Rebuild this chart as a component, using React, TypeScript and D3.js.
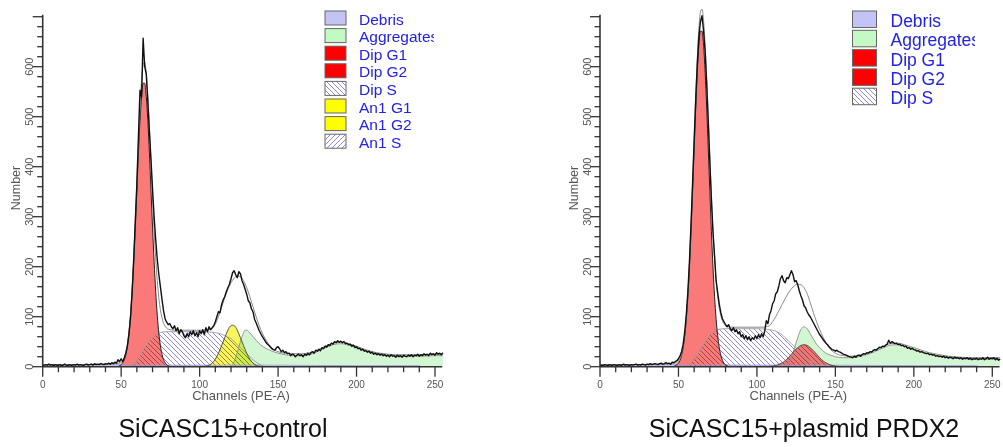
import * as d3 from 'd3';

type Pt = [number, number];

// ---- data ----
const channels = d3.range(256);

const histControl = [
  2, 3, 4, 3, 5, 3, 4, 2, 4, 3, 3, 4, 2, 3, 5, 3, 2, 4, 3, 3,
  4, 3, 5, 3, 4, 3, 2, 4, 5, 3, 4, 5, 3, 6, 4, 5, 4, 6, 5, 4,
  6, 5, 7, 5, 8, 6, 9, 7, 14, 10, 16, 10, 18, 27, 42, 66, 100, 150, 215, 290,
  365, 460, 553, 540, 657, 600, 585, 530, 470, 415, 355, 300, 255, 215, 185, 160, 135, 112, 96, 89,
  84, 86, 80, 76, 82, 72, 78, 66, 74, 70, 62, 58, 66, 60, 70, 64, 72, 62, 68, 60,
  72, 66, 74, 64, 78, 70, 80, 74, 78, 82, 90, 100, 110, 108, 124, 134, 140, 150, 158, 165,
  176, 188, 192, 184, 178, 190, 186, 172, 165, 155, 145, 132, 128, 116, 110, 95, 88, 80, 72, 66,
  60, 55, 50, 46, 43, 40, 36, 34, 33, 38, 40, 36, 30, 33, 28, 30, 26, 27, 22, 25,
  24, 20, 23, 25, 22, 24, 20, 25, 23, 27, 24, 28, 30, 27, 33, 31, 35, 32, 38, 36,
  41, 39, 44, 42, 47, 45, 50, 48, 52, 49, 51, 48, 50, 46, 47, 44, 45, 41, 43, 38,
  40, 36, 37, 33, 35, 31, 32, 29, 31, 27, 29, 25, 27, 24, 26, 23, 25, 22, 24, 21,
  23, 20, 24, 21, 22, 19, 23, 20, 22, 19, 23, 21, 20, 23, 21, 24, 20, 23, 22, 25,
  21, 24, 22, 26, 23, 25, 22, 27, 24, 26, 23, 28, 25, 27, 24, 28,
];

const histPrdx2 = [
  2, 3, 2, 4, 3, 2, 4, 3, 3, 4, 3, 2, 4, 3, 3, 5, 3, 4, 3, 3,
  4, 3, 4, 5, 3, 4, 3, 5, 4, 3, 5, 4, 6, 4, 5, 6, 5, 4, 6, 7,
  5, 6, 8, 6, 7, 5, 9, 8, 10, 12, 16, 22, 30, 45, 70, 104, 150, 210, 285, 368,
  452, 535, 605, 660, 690, 702, 672, 630, 565, 490, 410, 335, 270, 222, 172, 148, 125, 108, 96, 90,
  84, 80, 84, 76, 72, 78, 70, 74, 66, 70, 60, 64, 56, 62, 54, 60, 52, 58, 55, 62,
  56, 64, 58, 66, 60, 72, 92, 86, 104, 112, 126, 132, 146, 150, 162, 176, 182, 172, 168, 178,
  176, 184, 192, 184, 170, 172, 164, 152, 142, 134, 122, 118, 110, 104, 100, 94, 88, 82, 76, 70,
  64, 60, 55, 51, 47, 44, 40, 37, 34, 33, 31, 33, 30, 29, 27, 25, 24, 23, 21, 20,
  19, 18, 21, 19, 22, 23, 21, 24, 26, 25, 28, 27, 30, 29, 32, 34, 33, 36, 39, 38,
  41, 40, 43, 45, 53, 47, 50, 48, 46, 47, 44, 45, 42, 43, 40, 41, 37, 38, 35, 37,
  34, 33, 31, 32, 29, 30, 28, 27, 26, 27, 24, 25, 23, 24, 21, 22, 20, 21, 19, 21,
  18, 20, 17, 19, 18, 16, 19, 17, 18, 16, 18, 15, 17, 16, 18, 15, 17, 14, 16, 15,
  17, 14, 16, 15, 18, 14, 16, 19, 15, 17, 16, 18, 14, 17, 13, 15,
];

// model components, [channel, count]
const debrisControl: Pt[] = [[0, 4], [20, 4], [40, 4], [50, 4], [60, 3], [100, 3], [150, 3], [200, 2], [240, 2], [241, 0]];
const g1Control: Pt[] = [
  [48, 0], [49, 2], [50, 4], [51, 8], [52, 14], [53, 25], [54, 42], [55, 67], [56, 103], [57, 151], [58, 210],
  [59, 279], [60, 353], [61, 427], [62, 492], [63, 540], [64, 567], [65, 567], [66, 540], [67, 492],
  [68, 427], [69, 353], [70, 279], [71, 210], [72, 151], [73, 103], [74, 67], [75, 42], [76, 25],
  [77, 14], [78, 8], [79, 4], [80, 2], [81, 0],
];
const sControl: Pt[] = [
  [54, 0], [56, 2], [58, 5], [60, 12], [62, 22], [64, 33], [66, 43], [68, 51], [70, 58], [72, 63], [74, 67],
  [76, 69], [80, 70], [90, 70], [100, 70], [108, 69], [110, 68], [112, 67], [114, 65], [116, 62], [118, 59],
  [120, 56], [122, 50], [124, 44], [126, 38], [128, 32], [130, 26], [132, 20], [134, 14], [136, 9],
  [138, 5], [140, 2], [142, 0],
];
const an1G1Control: Pt[] = [
  [103, 0], [104, 1], [106, 3], [108, 7], [110, 15], [112, 27], [114, 42], [116, 58], [118, 73], [119, 79],
  [120, 82], [121, 83], [122, 82], [123, 79], [124, 73], [126, 58], [128, 42], [130, 27], [132, 15],
  [134, 7], [136, 3], [138, 1], [139, 0],
];
const aggControl: Pt[] = [
  [120, 0], [122, 10], [124, 28], [126, 50], [128, 68], [129, 73], [130, 73], [132, 68], [134, 60],
  [136, 53], [138, 46], [140, 41], [142, 37], [144, 34], [146, 31], [148, 29], [150, 27], [153, 25],
  [156, 23], [160, 22], [165, 22], [170, 24], [175, 30], [180, 38], [185, 44], [190, 46], [195, 43],
  [200, 38], [205, 33], [210, 28], [215, 25], [220, 23], [225, 22], [230, 21], [240, 21], [250, 22], [255, 22],
];
const fitControl: Pt[] = [
  [0, 4], [40, 5], [46, 6], [50, 8], [51, 12], [52, 18], [53, 29], [54, 46], [55, 71], [56, 107], [57, 157],
  [58, 218], [59, 291], [60, 369], [61, 448], [62, 519], [63, 572], [64, 604], [65, 609], [66, 587],
  [67, 543], [68, 481], [69, 411], [70, 341], [71, 274], [72, 218], [73, 172], [74, 138], [75, 114],
  [76, 98], [77, 87], [78, 81], [79, 77], [80, 75], [84, 73], [100, 73], [106, 74], [108, 77], [110, 85],
  [112, 100], [114, 118], [116, 138], [118, 155], [120, 168], [122, 177], [124, 182], [126, 180],
  [128, 172], [130, 158], [132, 140], [134, 120], [136, 100], [138, 82], [140, 67], [142, 55], [144, 45],
  [146, 38], [148, 33], [150, 30], [152, 28], [155, 27], [160, 26], [165, 26], [170, 28], [175, 33],
  [180, 41], [185, 47], [190, 49], [195, 46], [200, 41], [205, 35], [210, 30], [215, 27], [220, 25],
  [225, 24], [230, 24], [240, 24], [250, 25], [255, 25],
];

const debrisPrdx2: Pt[] = [[0, 4], [25, 4], [50, 4], [100, 3], [150, 3], [200, 2], [240, 2], [241, 0]];
const g1Prdx2: Pt[] = [
  [47, 0], [48, 2], [49, 4], [50, 7], [51, 13], [52, 23], [53, 38], [54, 62], [55, 95], [56, 141], [57, 199],
  [58, 270], [59, 350], [60, 435], [61, 517], [62, 589], [63, 643], [64, 671], [65, 671], [66, 643],
  [67, 589], [68, 517], [69, 435], [70, 350], [71, 270], [72, 199], [73, 141], [74, 95], [75, 62],
  [76, 38], [77, 23], [78, 13], [79, 7], [80, 4], [81, 2], [82, 0],
];
const sPrdx2: Pt[] = [
  [53, 0], [56, 3], [58, 8], [60, 15], [62, 24], [64, 34], [66, 45], [68, 55], [70, 63], [72, 69], [74, 73],
  [76, 75], [80, 76], [90, 76], [100, 76], [106, 75], [108, 74], [110, 73], [112, 71], [114, 68],
  [116, 64], [118, 58], [120, 52], [122, 46], [124, 40], [126, 34], [128, 28], [130, 22], [132, 17],
  [134, 12], [136, 8], [138, 5], [140, 3], [142, 1], [144, 0],
];
const g2Prdx2: Pt[] = [
  [106, 0], [108, 0.5], [110, 1.2], [112, 2.5], [114, 4.5], [116, 7.7], [118, 12], [120, 18], [122, 25],
  [124, 32], [126, 38], [128, 42.5], [130, 44], [132, 42.5], [134, 38], [136, 32], [138, 25], [140, 18],
  [142, 12], [144, 7.7], [146, 4.5], [148, 2.5], [150, 1.2], [152, 0.5], [154, 0],
];
const aggPrdx2: Pt[] = [
  [118, 0], [120, 6], [122, 18], [124, 38], [126, 58], [128, 74], [130, 80], [132, 76], [134, 66],
  [136, 55], [138, 45], [140, 38], [142, 32], [144, 27], [146, 24], [148, 22], [150, 20], [155, 18],
  [160, 18], [165, 20], [170, 24], [175, 30], [180, 37], [185, 43], [190, 44], [195, 40], [200, 35],
  [205, 30], [210, 25], [215, 22], [220, 19], [225, 17], [230, 16], [240, 15], [250, 15], [255, 15],
];
const fitPrdx2: Pt[] = [
  [0, 4], [40, 5], [46, 6], [49, 8], [50, 11], [51, 17], [52, 27], [53, 42], [54, 66], [55, 100],
  [56, 148], [57, 208], [58, 282], [59, 365], [60, 454], [61, 540], [62, 617], [63, 676], [64, 709],
  [65, 715], [66, 692], [67, 643], [68, 576], [69, 498], [70, 417], [71, 340], [72, 272], [73, 216],
  [74, 172], [75, 140], [76, 117], [77, 102], [78, 92], [79, 86], [80, 83], [82, 80], [84, 79],
  [104, 79], [106, 80], [108, 82], [110, 90], [112, 100], [114, 112], [116, 124], [118, 136], [120, 147],
  [122, 156], [124, 162], [126, 165], [128, 164], [130, 158], [132, 146], [134, 128], [136, 108],
  [138, 90], [140, 74], [142, 60], [144, 48], [146, 38], [148, 31], [150, 27], [152, 24], [155, 22],
  [160, 21], [165, 23], [170, 27], [175, 33], [180, 40], [185, 46], [190, 47], [195, 43], [200, 38],
  [205, 33], [210, 28], [215, 25], [220, 22], [225, 20], [230, 19], [240, 18], [250, 18], [255, 18],
];

const xTicks = [0, 50, 100, 150, 200, 250];
const xMinor = d3.range(0, 251, 10);
const yTicks = [0, 100, 200, 300, 400, 500, 600];
const yMinor = d3.range(0, 701, 20);

type Swatch = 'debris' | 'agg' | 'red' | 'hatchBack' | 'yellow' | 'hatchFwd';
const legendControl: [string, Swatch][] = [
  ['Debris', 'debris'], ['Aggregates', 'agg'], ['Dip G1', 'red'], ['Dip G2', 'red'],
  ['Dip S', 'hatchBack'], ['An1 G1', 'yellow'], ['An1 G2', 'yellow'], ['An1 S', 'hatchFwd'],
];
const legendPrdx2: [string, Swatch][] = [
  ['Debris', 'debris'], ['Aggregates', 'agg'], ['Dip G1', 'red'], ['Dip G2', 'red'], ['Dip S', 'hatchBack'],
];

const swatchFill: Record<Swatch, string> = {
  debris: '#c3c3f5', agg: '#c4f8c4', red: '#ff0000', yellow: '#ffff00',
  hatchBack: 'url(#hatchBlue)', hatchFwd: 'url(#hatchBlueFwd)',
};

const FONT = '"Liberation Sans", Arial, sans-serif';

interface LegendGeom { x: number; textX: number; top: number; step: number; w: number; h: number; size: number; clipX: number }

interface PanelProps {
  id: string;
  x0: number;
  hist: number[];
  fit: Pt[];
  debris: Pt[];
  dipS: Pt[];
  g1: Pt[];
  g2?: Pt[];
  an1G1?: Pt[];
  agg: Pt[];
  legend: [string, Swatch][];
  lg: LegendGeom;
  title: string;
  titleX: number;
}

function Panel(p: PanelProps) {
  const x = d3.scaleLinear().domain([0, 250]).range([p.x0, p.x0 + 392.3]);
  const y = d3.scaleLinear().domain([0, 600]).range([366.7, 66.7]);

  const area = d3.area<Pt>().x(d => x(d[0])).y0(y(0)).y1(d => y(d[1])).curve(d3.curveMonotoneX);
  const top = d3.line<Pt>().x(d => x(d[0])).y(d => y(d[1])).curve(d3.curveMonotoneX);
  const histLine = d3.line<number>().x((_, i) => x(channels[i])).y(d => y(d));

  const hatched = [p.dipS, ...(p.g2 ? [p.g2] : [])];
  const colored = [p.g1, p.agg, ...(p.g2 ? [p.g2] : []), ...(p.an1G1 ? [p.an1G1] : [])];

  return (
    <g>
      <defs>
        <clipPath id={`${p.id}-hs`}>
          {hatched.map((a, i) => <path key={i} d={area(a) ?? ''} />)}
        </clipPath>
        <clipPath id={`${p.id}-col`}>
          {colored.map((a, i) => <path key={i} d={area(a) ?? ''} />)}
        </clipPath>
        <clipPath id={`${p.id}-lg`}>
          <rect x={p.lg.x - 5} y={0} width={p.lg.clipX - p.lg.x + 5} height={200} />
        </clipPath>
      </defs>

      {/* components */}
      <path d={area(p.debris) ?? ''} fill="#c8c8f4" />
      <path d={area(p.dipS) ?? ''} fill="url(#hatchBlue)" />
      <path d={area(p.agg) ?? ''} fill="#fff" />
      {p.an1G1 && <path d={area(p.an1G1) ?? ''} fill="#f6f65a" />}
      <path d={area(p.agg) ?? ''} fill="#d2f6d2" style={{ mixBlendMode: 'multiply' }} />
      <path d={area(p.g1) ?? ''} fill="#fa7a7a" />
      {p.g2 && <path d={area(p.g2) ?? ''} fill="#f07676" />}
      <g clipPath={`url(#${p.id}-hs)`}>
        <g clipPath={`url(#${p.id}-col)`}>
          <rect x={p.x0} y={0} width={400} height={370} fill="url(#hatchDark)" />
        </g>
      </g>

      <path d={top(p.debris) ?? ''} fill="none" stroke="#9a9ae0" strokeWidth={0.9} />
      <path d={top(p.dipS) ?? ''} fill="none" stroke="#9a9a9a" strokeWidth={0.9} />
      <path d={top(p.agg) ?? ''} fill="none" stroke="#8c8c8c" strokeWidth={0.9} />
      {p.an1G1 && <path d={top(p.an1G1) ?? ''} fill="none" stroke="#444" strokeWidth={0.9} />}
      {p.g2 && <path d={top(p.g2) ?? ''} fill="none" stroke="#444" strokeWidth={0.9} />}
      <path d={top(p.g1) ?? ''} fill="none" stroke="#222" strokeWidth={1} />

      {/* fit and raw histogram */}
      <path d={top(p.fit) ?? ''} fill="none" stroke="#8a8a8a" strokeWidth={1} />
      <path d={histLine(p.hist) ?? ''} fill="none" stroke="#111" strokeWidth={1.4} strokeLinejoin="round" />

      {/* axes */}
      <line x1={x(0)} x2={x(254.6)} y1={y(0)} y2={y(0)} stroke="#333" strokeWidth={1.6} />
      <line x1={x(0)} x2={x(0)} y1={y(0)} y2={y(704)} stroke="#333" strokeWidth={1.6} />
      {xMinor.map(t => (
        <line key={`xm${t}`} x1={x(t)} x2={x(t)} y1={y(0)} y2={y(0) + (t % 50 === 0 ? 10 : 5.5)} stroke="#333" strokeWidth={1.3} />
      ))}
      {yMinor.map(t => (
        <line key={`ym${t}`} x1={x(0) - (t % 100 === 0 ? 10 : 5.5)} x2={x(0)} y1={y(t)} y2={y(t)} stroke="#333" strokeWidth={1.3} />
      ))}
      {xTicks.map(t => (
        <text key={`xt${t}`} x={x(t)} y={387.5} fontSize={10} fill="#555" textAnchor="middle" fontFamily={FONT}>{t}</text>
      ))}
      {yTicks.map(t => (
        <text key={`yt${t}`} transform={`translate(${x(0) - 9.5},${y(t)}) rotate(-90)`} fontSize={11} fill="#555" textAnchor="middle" fontFamily={FONT}>{t}</text>
      ))}
      <text x={x(0) + 198.3} y={399.5} fontSize={13} fill="#555" textAnchor="middle" fontFamily={FONT}>Channels (PE-A)</text>
      <text transform={`translate(${x(0) - 22.5},188) rotate(-90)`} fontSize={12.5} fill="#555" textAnchor="middle" fontFamily={FONT}>Number</text>

      {/* legend */}
      <g clipPath={`url(#${p.id}-lg)`}>
        {p.legend.map(([label, sw], i) => {
          const ty = p.lg.top + i * p.lg.step;
          return (
            <g key={label + i}>
              <rect x={p.lg.x} y={ty} width={p.lg.w} height={p.lg.h} fill={swatchFill[sw]} stroke="#666" strokeWidth={1} />
              <text x={p.lg.textX} y={ty + p.lg.h - 0.5} fontSize={p.lg.size} fill="#2222e6" fontFamily={FONT}>{label}</text>
            </g>
          );
        })}
      </g>

      <text x={p.titleX} y={437} fontSize={25} fill="#111" textAnchor="middle" fontFamily={FONT}>{p.title}</text>
    </g>
  );
}

export default function App() {
  return (
    <div style={{ position: 'absolute', left: 0, top: 0 }}>
      <svg width={1003} height={447} style={{ display: 'block', background: '#fff' }}>
        <defs>
          <pattern id="hatchBlue" patternUnits="userSpaceOnUse" width={5} height={5}>
            <path d="M-1,-1 L6,6 M-1,4 L1,6 M4,-1 L6,1" stroke="#7d7dd9" strokeWidth={0.9} />
          </pattern>
          <pattern id="hatchBlueFwd" patternUnits="userSpaceOnUse" width={5} height={5}>
            <path d="M-1,6 L6,-1 M-1,1 L1,-1 M4,6 L6,4" stroke="#7d7dd9" strokeWidth={0.9} />
          </pattern>
          <pattern id="hatchDark" patternUnits="userSpaceOnUse" width={5} height={5}>
            <path d="M-1,-1 L6,6 M-1,4 L1,6 M4,-1 L6,1" stroke="rgba(80,20,20,0.6)" strokeWidth={0.9} />
          </pattern>
        </defs>
        <Panel
          id="ctl" x0={42.7} hist={histControl} fit={fitControl} debris={debrisControl} dipS={sControl}
          g1={g1Control} an1G1={an1G1Control} agg={aggControl} legend={legendControl}
          lg={{ x: 325, textX: 359, top: 11, step: 17.6, w: 21, h: 14, size: 15.5, clipX: 434 }}
          title="SiCASC15+control" titleX={223}
        />
        <Panel
          id="prd" x0={600} hist={histPrdx2} fit={fitPrdx2} debris={debrisPrdx2} dipS={sPrdx2}
          g1={g1Prdx2} g2={g2Prdx2} agg={aggPrdx2} legend={legendPrdx2}
          lg={{ x: 852.5, textX: 890.5, top: 11, step: 19.3, w: 24, h: 16.5, size: 17.5, clipX: 975 }}
          title="SiCASC15+plasmid PRDX2" titleX={804}
        />
      </svg>
    </div>
  );
}
